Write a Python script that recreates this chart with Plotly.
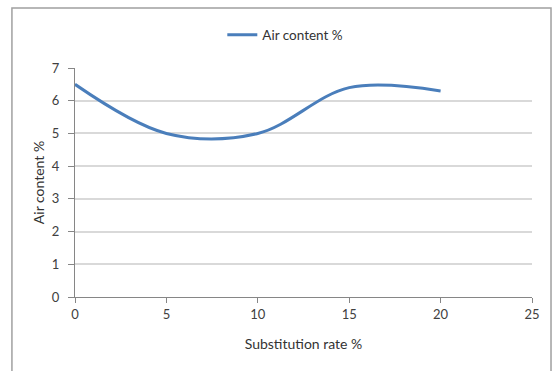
import plotly.graph_objects as go

substitution_rate = [0, 5, 10, 15, 20]
air_content = [6.5, 5.0, 5.0, 6.4, 6.3]
x_ticks = [0, 5, 10, 15, 20, 25]
y_ticks = [0, 1, 2, 3, 4, 5, 6, 7]

fig = go.Figure()
fig.add_trace(go.Scatter(
    x=substitution_rate, y=air_content, mode="lines",
    name="Air content %",
    line=dict(color="#4a7ebb", width=3, shape="spline", smoothing=1.0),
))

font = dict(family="Lato, sans-serif", size=13, color="#404040")
fig.update_layout(
    width=554, height=371,
    margin=dict(l=75, r=22, t=68, b=74, autoexpand=False),
    paper_bgcolor="white", plot_bgcolor="white",
    font=font,
    showlegend=True,
    legend=dict(orientation="h", x=0.515, xanchor="center", xref="container",
                y=1 - 35 / 371, yanchor="middle", yref="container",
                font=dict(size=13.5, color="#333333")),
    xaxis=dict(range=[0, 25], tickvals=x_ticks, showgrid=False, zeroline=False,
               showline=True, linecolor="#868686", linewidth=1,
               ticks="outside", ticklen=5, tickcolor="#868686",
               tickfont=dict(size=13),
               title=dict(text="Substitution rate %", standoff=18,
                          font=dict(size=14, color="#333333"))),
    yaxis=dict(range=[0, 7], tickvals=y_ticks, showgrid=True, gridcolor="#d9d9d9",
               gridwidth=1.5, zeroline=False,
               showline=True, linecolor="#868686", linewidth=1,
               ticks="outside", ticklen=6, tickcolor="#868686",
               ticklabelstandoff=6, tickfont=dict(size=13),
               title=dict(text="Air content %", standoff=3,
                          font=dict(size=14, color="#333333"))),
)
fig.add_shape(type="rect", xref="paper", yref="paper",
              x0=-0.138, x1=1.0416, y0=-0.4, y1=1.262,
              line=dict(color="#a0a0a0", width=1.5), fillcolor="rgba(0,0,0,0)", layer="below")
fig.write_html("out.html")
